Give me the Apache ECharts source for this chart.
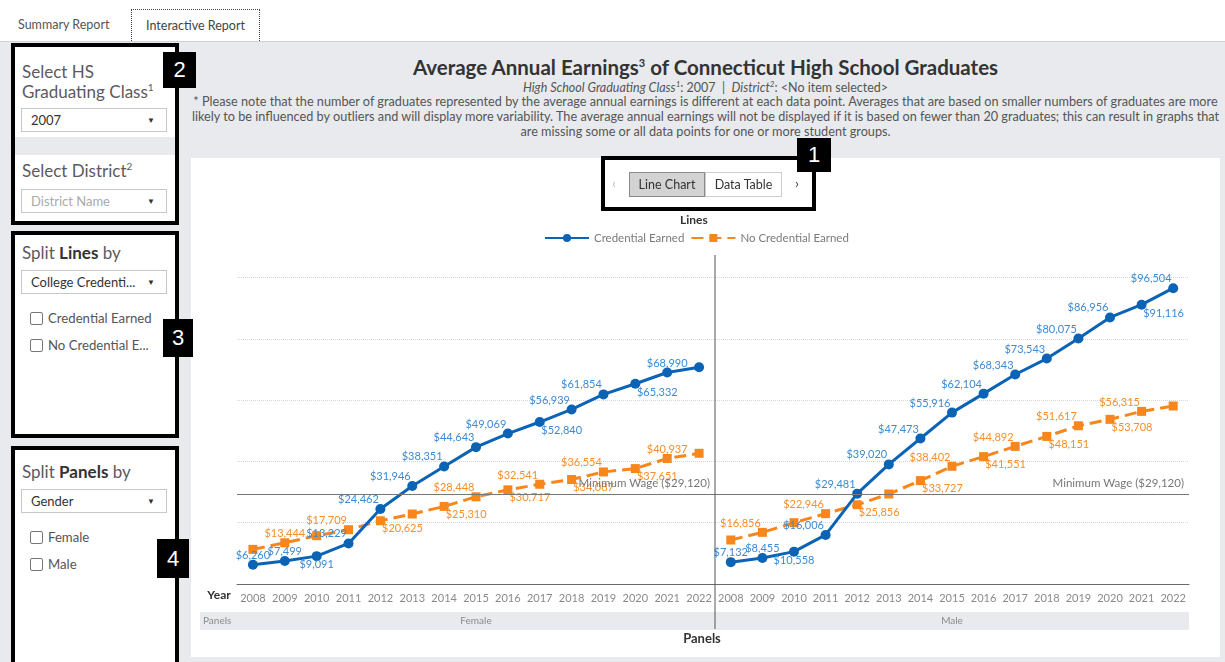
<!DOCTYPE html>
<html>
<head>
<meta charset="utf-8">
<script src="https://cdn.jsdelivr.net/npm/echarts@6/dist/echarts.min.js"></script>
<style>
  body { margin: 0; width: 1225px; height: 662px; overflow: hidden; position: relative;
         font-family: Lato, "Noto Sans", sans-serif; background: #fff; color: #444; }
  sup { line-height: 0; }
  .abs { position: absolute; }
  .tab { top: 17px; font-size: 12.5px; color: #555; }
  .tab-active { left: 131px; top: 9px; width: 127px; height: 31px; border: 1px dotted #444; border-bottom: none;
                background: #fff; font-size: 12.5px; color: #444; text-align: center; line-height: 31px; z-index: 2; }
  .stage { left: 0; top: 41px; width: 1225px; height: 621px; background: #e8eaed; border-top: 1px solid #cfd2d6; }
  .box { left: 11px; width: 160px; border: 4px solid #000; background: #fff; }
  .gap { left: 15px; width: 160px; background: #e8eaed; }
  .lbl { left: 22px; font-size: 17px; color: #5c5a60; line-height: 20px; }
  .lbl sup { font-size: 10px; }
  .dd { left: 21px; width: 144px; height: 22px; border: 1px solid #c8c8c8; background: #fff;
        font-size: 13px; line-height: 22px; color: #333; }
  .dd span.t { position: absolute; left: 9px; }
  .dd span.a { position: absolute; right: 11px; font-size: 8px; color: #333; }
  .cb { left: 30px; font-size: 13.2px; color: #555; line-height: 14px; }
  .cb i { display: inline-block; width: 11px; height: 11px; border: 1px solid #777; border-radius: 2px;
          vertical-align: -2px; margin-right: 5px; }
  .num { background: #000; color: #fff; font-family: "Liberation Sans", sans-serif; font-size: 22px;
         text-align: center; z-index: 5; }
  #chart { left: 191px; top: 158px; width: 1029px; height: 499px; background: #fff; }
  .title { left: 191px; width: 1029px; text-align: center; }
  .btn { top: 172px; height: 23px; font-size: 12.5px; line-height: 23px; text-align: center; z-index: 4; color: #333; }
</style>
</head>
<body>
<div class="abs tab" style="left:18px;">Summary Report</div>
<div class="abs tab-active">Interactive Report</div>
<div class="abs stage"></div>

<!-- left controls -->
<div class="abs box" style="top:43px; height:174px;"></div>
<div class="abs gap" style="top:137px; height:18px;"></div>
<div class="abs lbl" style="top:62px;">Select HS<br>Graduating Class<sup>1</sup></div>
<div class="abs dd" style="top:108px;"><span class="t">2007</span><span class="a">▼</span></div>
<div class="abs lbl" style="top:161px;">Select District<sup>2</sup></div>
<div class="abs dd" style="top:189px;"><span class="t" style="color:#aaa">District Name</span><span class="a">▼</span></div>

<div class="abs box" style="top:231px; height:199px;"></div>
<div class="abs lbl" style="top:243px;">Split <b style="color:#333">Lines</b> by</div>
<div class="abs dd" style="top:270px;"><span class="t">College Credenti...</span><span class="a">▼</span></div>
<div class="abs cb" style="top:311px;"><i></i>Credential Earned</div>
<div class="abs cb" style="top:338px;"><i></i>No Credential E...</div>

<div class="abs box" style="top:446px; height:220px;"></div>
<div class="abs lbl" style="top:462px;">Split <b style="color:#333">Panels</b> by</div>
<div class="abs dd" style="top:489px;"><span class="t">Gender</span><span class="a">▼</span></div>
<div class="abs cb" style="top:530px;"><i></i>Female</div>
<div class="abs cb" style="top:557px;"><i></i>Male</div>

<div class="abs num" style="left:163px; top:52px; width:33px; height:36px; line-height:36px;">2</div>
<div class="abs num" style="left:163px; top:319px; width:30px; height:38px; line-height:38px;">3</div>
<div class="abs num" style="left:157px; top:539px; width:32px; height:39px; line-height:39px;">4</div>

<!-- header texts -->
<div class="abs title" style="top:55px; font-size:20.5px; font-weight:bold; color:#333;">Average Annual Earnings<sup style="font-size:11px">3</sup> of Connecticut High School Graduates</div>
<div class="abs title" style="top:80px; font-size:12.5px; color:#555;"><i>High School Graduating Class<sup style="font-size:8px">1</sup></i>: 2007 &nbsp;|&nbsp; <i>District<sup style="font-size:8px">2</sup></i>: &lt;No item selected&gt;</div>
<div class="abs title" style="top:94px; font-size:12.7px; line-height:15px; color:#555; white-space:nowrap;">* Please note that the number of graduates represented by the average annual earnings is different at each data point. Averages that are based on smaller numbers of graduates are more<br>likely to be influenced by outliers and will display more variability. The average annual earnings will not be displayed if it is based on fewer than 20 graduates; this can result in graphs that<br>are missing some or all data points for one or more student groups.</div>

<div class="abs" id="chart"></div>

<!-- view switcher -->
<div class="abs" style="left:601px; top:156px; width:207px; height:47px; border:4px solid #000; z-index:3;"></div>
<div class="abs num" style="left:797px; top:138px; width:34px; height:34px; line-height:34px;">1</div>
<div class="abs btn" style="left:608px; width:12px; color:#bbb;">&lsaquo;</div>
<div class="abs btn" style="left:629px; width:74px; background:#d3d3d3; border:1px solid #8a8a8a;">Line Chart</div>
<div class="abs btn" style="left:705px; width:75px; background:#fff; border:1px solid #ccc;">Data Table</div>
<div class="abs btn" style="left:791px; width:12px;">&rsaquo;</div>

<script>
const years = ["2008", "2009", "2010", "2011", "2012", "2013", "2014", "2015",
  "2016", "2017", "2018", "2019", "2020", "2021", "2022"];
const panels = ["Female", "Male"];
const lineNames = ["Credential Earned", "No Credential Earned"];

const femaleCredential = [6260, 7499, 9091, 13229, 24462, 31946, 38351, 44643,
  49069, 52840, 56939, 61854, 65332, 68990, 70700];
const femaleNoCredential = [11300, 13444, 15760, 17709, 20625, 22840, 25310, 28448,
  30717, 32541, 34087, 36554, 37651, 40937, 42640];
const maleCredential = [7132, 8455, 10558, 16006, 29481, 39020, 47473, 55916,
  62104, 68343, 73543, 80075, 86956, 91116, 96504];
const maleNoCredential = [14360, 16856, 20000, 22946, 25856, 29360, 33727, 38402,
  41551, 44892, 48151, 51617, 53708, 56315, 58070];
const minimumWage = 29120;

// where each value label sits (t = above, tl = above-left, b = below, br = below-right, null = hidden)
const femaleCredLabelPos = ["t", "t", "b", "tl", "tl", "tl", "tl", "tl", "tl", "br", "tl", "tl", "br", "t", null];
const femaleNoCredLabelPos = [null, "t", null, "tl", "br", null, "br", "tl", "br", "tl", "br", "tl", "br", "t", null];
const maleCredLabelPos = ["t", "t", "b", "tl", "tl", "tl", "tl", "tl", "tl", "tl", "tl", "tl", "tl", "br", "tl"];
const maleNoCredLabelPos = [null, "tl", null, "tl", "br", null, "br", "tl", "br", "tl", "br", "tl", "br", "tl", null];

const BLUE = "#0b63b5";
const ORANGE = "#f7861c";
const FONT = "Lato, 'Noto Sans', sans-serif";

const money = (v) => "$" + Number(v).toLocaleString("en-US");

const labelFor = (p) => {
  if (!p) return { show: false };
  if (p === "t") return { position: "top", offset: [0, 1] };
  if (p === "tl") return { position: "top", offset: [-22, 1] };
  if (p === "b") return { position: "bottom", offset: [0, -2] };
  return { position: "bottom", offset: [22, -2] };
};
const withLabels = (values, pos) => values.map((v, i) => ({ value: v, label: labelFor(pos[i]) }));

const makeSeries = (name, values, pos, idx, isCred) => ({
  name,
  type: "line",
  xAxisIndex: idx,
  yAxisIndex: idx,
  data: withLabels(values, pos),
  symbol: isCred ? "circle" : "rect",
  symbolSize: isCred ? 10 : 9,
  itemStyle: { color: isCred ? BLUE : ORANGE },
  lineStyle: { color: isCred ? BLUE : ORANGE, width: 3, type: isCred ? "solid" : [12, 6] },
  label: {
    show: true, distance: 0, fontSize: 11, fontFamily: FONT,
    color: isCred ? "#3d8ad4" : "#f58f2c",
    formatter: (p) => money(p.value)
  },
  z: isCred ? 4 : 3,
  markLine: isCred ? {
    silent: true, symbol: "none", animation: false,
    lineStyle: { color: "#777", width: 1, type: "solid" },
    label: { position: "insideEndTop", color: "#777", fontSize: 11.5, fontFamily: FONT,
      formatter: () => "Minimum Wage (" + money(minimumWage) + ")" },
    data: [{ yAxis: minimumWage }]
  } : undefined
});

const gridTop = 98, gridHeight = 328;
const grids = [
  { left: 46, width: 478, top: gridTop, height: gridHeight },
  { left: 524, width: 474, top: gridTop, height: gridHeight }
];

const xAxisFor = (i) => ({
  type: "category", gridIndex: i, data: years, boundaryGap: true,
  axisLine: { lineStyle: { color: "#6a6a6a" } },
  axisTick: { alignWithLabel: true, interval: 0, length: 4, lineStyle: { color: "#6a6a6a" } },
  axisLabel: { interval: 0, color: "#8a8a8a", fontSize: 11, fontFamily: FONT, margin: 9 }
});
const yAxisFor = (i) => ({
  type: "value", gridIndex: i, min: 0, max: 107000, interval: 20000,
  axisLine: { show: false }, axisTick: { show: false }, axisLabel: { show: false },
  splitLine: { showMinLine: false, showMaxLine: false, lineStyle: { color: "#d6d6d6", type: "dotted" } }
});

const chart = echarts.init(document.getElementById("chart"));
const bandY = 454;
const option = {
  animation: false,
  textStyle: { fontFamily: FONT },
  grid: grids,
  xAxis: [xAxisFor(0), xAxisFor(1)],
  yAxis: [yAxisFor(0), yAxisFor(1)],
  legend: {
    data: lineNames, left: 348, top: 69, itemWidth: 44, itemHeight: 10, itemGap: 6,
    textStyle: { color: "#7a7a7a", fontSize: 11.5, fontFamily: FONT }
  },
  graphic: [
    { type: "text", left: 489, top: 56, style: { text: "Lines", font: "bold 12px " + FONT, fill: "#333" } },
    { type: "rect", shape: { x: 9, y: bandY, width: 989, height: 18 }, style: { fill: "#e8eaed" }, z: 0 },
    { type: "text", x: 12, y: bandY + 9, style: { text: "Panels", font: "10px " + FONT, fill: "#8a8a8a", verticalAlign: "middle" } },
    { type: "text", x: grids[0].left + grids[0].width / 2, y: bandY + 9,
      style: { text: panels[0], font: "10px " + FONT, fill: "#8a8a8a", align: "center", verticalAlign: "middle" } },
    { type: "text", x: grids[1].left + grids[1].width / 2, y: bandY + 9,
      style: { text: panels[1], font: "10px " + FONT, fill: "#8a8a8a", align: "center", verticalAlign: "middle" } },
    { type: "text", x: 28, y: 437, style: { text: "Year", font: "bold 12px " + FONT, fill: "#333", align: "center", verticalAlign: "middle" } },
    { type: "text", x: 511, y: 481, style: { text: "Panels", font: "bold 13px " + FONT, fill: "#333", align: "center", verticalAlign: "middle" } },
    { type: "line", shape: { x1: 524, y1: 97, x2: 524, y2: 471 }, style: { stroke: "#555", lineWidth: 1 }, z: 10 }
  ],
  series: [
    makeSeries(lineNames[0], femaleCredential, femaleCredLabelPos, 0, true),
    makeSeries(lineNames[1], femaleNoCredential, femaleNoCredLabelPos, 0, false),
    makeSeries(lineNames[0], maleCredential, maleCredLabelPos, 1, true),
    makeSeries(lineNames[1], maleNoCredential, maleNoCredLabelPos, 1, false)
  ]
};
chart.setOption(option);
window.addEventListener("resize", () => chart.resize());
</script>
</body>
</html>
